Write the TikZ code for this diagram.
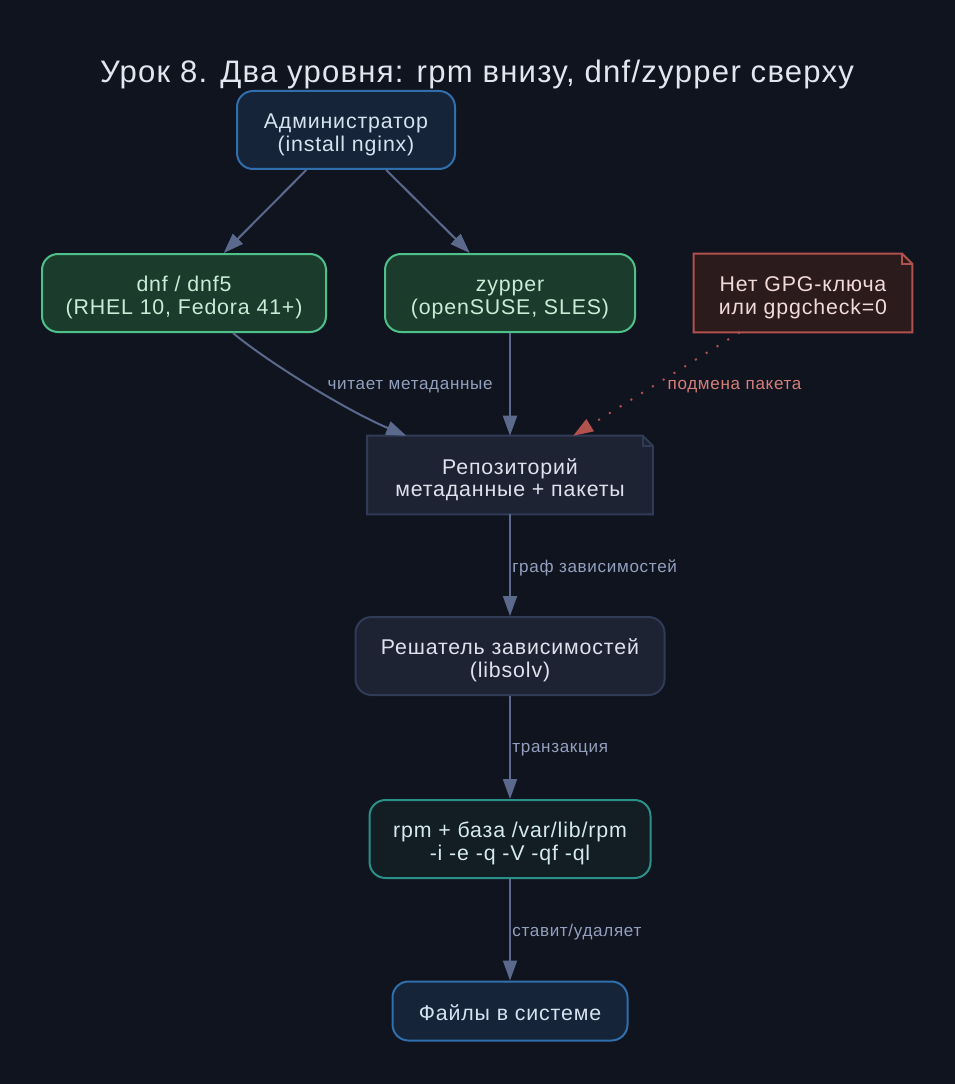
\documentclass[tikz,border=0pt]{standalone}
\usepackage{fontspec}
\setmainfont[LetterSpace=4]{Liberation Sans}
\usepackage{tikz}
\usetikzlibrary{arrows.meta,calc,backgrounds}
\definecolor{bgdark}{RGB}{16,20,31}
\definecolor{titletext}{RGB}{226,230,238}
\definecolor{bluefill}{RGB}{21,36,57}
\definecolor{blueline}{RGB}{48,110,172}
\definecolor{bluetext}{RGB}{214,226,240}
\definecolor{greenfill}{RGB}{27,60,44}
\definecolor{greenline}{RGB}{78,192,138}
\definecolor{greentext}{RGB}{202,236,214}
\definecolor{redfill}{RGB}{44,27,28}
\definecolor{redline}{RGB}{178,82,78}
\definecolor{redtext}{RGB}{240,218,218}
\definecolor{redlabel}{RGB}{214,126,122}
\definecolor{slatefill}{RGB}{30,35,52}
\definecolor{slateline}{RGB}{48,59,86}
\definecolor{slatetext}{RGB}{222,226,236}
\definecolor{tealfill}{RGB}{18,29,36}
\definecolor{tealline}{RGB}{42,145,136}
\definecolor{tealtext}{RGB}{214,234,238}
\definecolor{edgeblue}{RGB}{91,106,140}
\definecolor{labelblue}{RGB}{146,160,190}
\newcommand{\nodestrut}[1][18.5pt]{\rule{0pt}{#1}}

\begin{document}
\begin{tikzpicture}[x=0.75pt,y=-0.75pt,>={Triangle[length=15pt,width=10.5pt]},
  box/.style={rounded corners=12pt,line width=1.5pt,align=center,
    font=\fontsize{16}{16.8}\selectfont,minimum height=58.5pt,inner sep=0pt},
  admin/.style={box,draw=blueline,fill=bluefill,text=bluetext},
  tool/.style={box,draw=greenline,fill=greenfill,text=greentext},
  solver/.style={box,draw=slateline,fill=slatefill,text=slatetext},
  rpmbox/.style={box,draw=tealline,fill=tealfill,text=tealtext},
  notebox/.style={align=center,font=\fontsize{16}{16.8}\selectfont,
    minimum height=58.5pt,inner sep=0pt},
  edge/.style={draw=edgeblue,line width=1.5pt},
  lbl/.style={text=labelblue,font=\fontsize{12.8}{14}\selectfont,inner xsep=1pt,yshift=-2pt}]
  \useasboundingbox (0,0) rectangle (955,1084);

  \node[font=\fontsize{23.3}{26}\selectfont,text=titletext] (ttl) at (477,74)
    {Урок 8. Два уровня: rpm внизу, dnf/zypper сверху};

  \node[admin,minimum width=163.5pt] (adm) at (346,130) {\nodestrut Администратор\\(install nginx)};
  \node[tool,minimum width=213pt] (dnf) at (184,293) {\nodestrut dnf / dnf5\\(RHEL 10, Fedora 41+)};
  \node[tool,minimum width=187.5pt] (zyp) at (510,293) {\nodestrut zypper\\(openSUSE, SLES)};
  \node[notebox,text=redtext,minimum width=163.5pt] (gpg) at (803,293) {\nodestrut Нет GPG-ключа\\или gpgcheck=0};
  \node[notebox,text=slatetext,minimum width=213.75pt] (repo) at (510,475) {\nodestrut Репозиторий\\метаданные + пакеты};
  \node[solver,minimum width=231.75pt] (solv) at (510,656) {\nodestrut Решатель зависимостей\\(libsolv)};
  \node[rpmbox,minimum width=210.75pt] (rpm) at (510,839) {\nodestrut rpm + база /var/lib/rpm\\-i -e -q -V -qf -ql};
  \node[admin,minimum width=176.25pt,minimum height=44.25pt] (files) at (510,1011) {\nodestrut[15pt]Файлы в системе};

  % note shapes
  \begin{pgfonlayer}{background}
    \fill[bgdark] (0,0) rectangle (955,1084);
    \filldraw[fill=redfill,draw=redline,line width=1.5pt,line join=miter]
      (gpg.north west) -- ($(gpg.north east)+(-10,0)$) -- ($(gpg.north east)+(0,10)$)
      -- (gpg.south east) -- (gpg.south west) -- cycle;
    \filldraw[fill=slatefill,draw=slateline,line width=1.5pt]
      (repo.north west) -- ($(repo.north east)+(-10,0)$) -- ($(repo.north east)+(0,10)$)
      -- (repo.south east) -- (repo.south west) -- cycle;
  \end{pgfonlayer}
  \draw[redline,line width=1.5pt] ($(gpg.north east)+(-10,0)$) -- ($(gpg.north east)+(-10,10)$) -- ($(gpg.north east)+(0,10)$);
  \draw[slateline,line width=1.5pt] ($(repo.north east)+(-10,0)$) -- ($(repo.north east)+(-10,10)$) -- ($(repo.north east)+(0,10)$);

  % edges
  \draw[edge,->] (adm) -- (dnf);
  \draw[edge,->] (adm) -- (zyp);
  \draw[edge,->] ($(dnf.south)+(49,0)$) .. controls (265,360) and (345,410) .. ($(repo.north west)+(39,0)$);
  \node[lbl,anchor=west] (lread) at (326,384) {читает метаданные};
  \draw[edge,->] (zyp) -- (repo);
  \draw[draw=redline,line width=1.5pt,dash pattern=on 1.5pt off 8pt,->] (gpg) -- (repo);
  \node[lbl,anchor=west,text=redlabel] (lswap) at (666,384) {подмена пакета};
  \draw[edge,->] (repo) -- (solv) node[lbl,midway,anchor=west] (lgraph) {граф зависимостей};
  \draw[edge,->] (solv) -- (rpm) node[lbl,midway,anchor=west] (ltrans) {транзакция};
  \draw[edge,->] (rpm) -- (files) node[lbl,midway,anchor=west] (linst) {ставит/удаляет};
\end{tikzpicture}
\end{document}
